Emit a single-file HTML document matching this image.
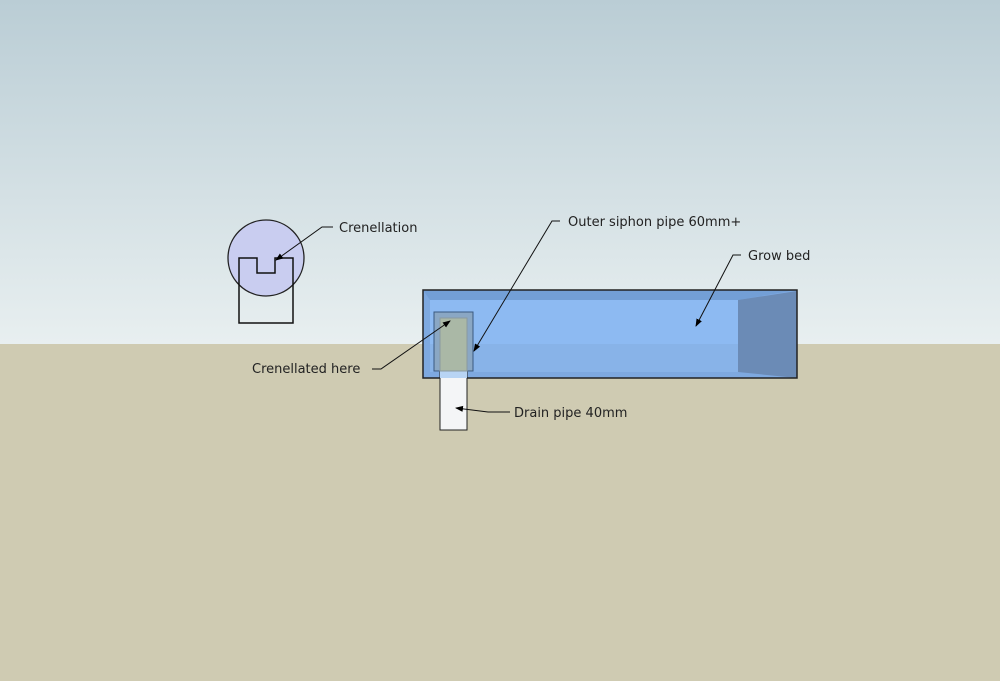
<!DOCTYPE html>
<html><head><style>
body{margin:0;width:1000px;height:681px;overflow:hidden;font-family:"DejaVu Sans","Liberation Sans",sans-serif}
</style></head><body>
<svg width="1000" height="681" viewBox="0 0 1000 681" xmlns="http://www.w3.org/2000/svg">
<defs>
<linearGradient id="sky" x1="0" y1="0" x2="0" y2="1">
<stop offset="0" stop-color="#bacdd5"/><stop offset="1" stop-color="#e8eff0"/>
</linearGradient>
<marker id="ar" markerWidth="8" markerHeight="8" refX="7" refY="4" orient="auto" markerUnits="userSpaceOnUse">
<path d="M0,1 L8,4 L0,7 z" fill="#000"/></marker>
</defs>
<rect x="0" y="0" width="1000" height="344" fill="url(#sky)"/>
<rect x="0" y="344" width="1000" height="337" fill="#cfcbb2"/>
<circle cx="266" cy="258" r="38" fill="#c9cdf0" stroke="#222" stroke-width="1.3"/>
<path d="M239,323 L239,258 L257,258 L257,273 L275,273 L275,258 L293,258 L293,323 Z" fill="none" stroke="#111" stroke-width="1.5"/>
<rect x="423" y="290" width="374" height="88" fill="#7ea9e0"/>
<rect x="430" y="300" width="308" height="72" fill="#8dbaf2"/>
<rect x="430" y="344" width="308" height="28" fill="#88b3e8"/>
<polygon points="423,290 797,290 738,300 430,300" fill="#739fd6"/>
<polygon points="738,300 797,291 797,378 738,372" fill="#6b8bb6"/>
<rect x="423" y="290" width="374" height="88" fill="none" stroke="#222" stroke-width="1.5"/>
<rect x="440" y="371" width="27" height="59" fill="#f4f5f7" stroke="#222" stroke-width="1"/>
<rect x="440" y="371" width="27" height="7" fill="#b8d4f4"/>
<rect x="434" y="312" width="39" height="59" fill="#8aa7c4" stroke="#3a5a80" stroke-width="1"/>
<rect x="440" y="318" width="27" height="53" fill="#aab8a6" stroke="#8a9aa0" stroke-width="1"/>
<g stroke="#111" stroke-width="1" fill="none">
<polyline points="333,227 322,227 276,260" marker-end="url(#ar)"/>
<polyline points="372,369 381,369 450,321" marker-end="url(#ar)"/>
<polyline points="560,221 552,221 474,351" marker-end="url(#ar)"/>
<polyline points="741,255 733,255 696,326" marker-end="url(#ar)"/>
<polyline points="510,412 488,412 456,408" marker-end="url(#ar)"/>
</g>
<g font-size="13" fill="#222">
<text x="339" y="232">Crenellation</text>
<text x="252" y="373">Crenellated here</text>
<text x="568" y="226">Outer siphon pipe 60mm+</text>
<text x="748" y="260">Grow bed</text>
<text x="514" y="417">Drain pipe 40mm</text>
</g>
</svg>
</body></html>
